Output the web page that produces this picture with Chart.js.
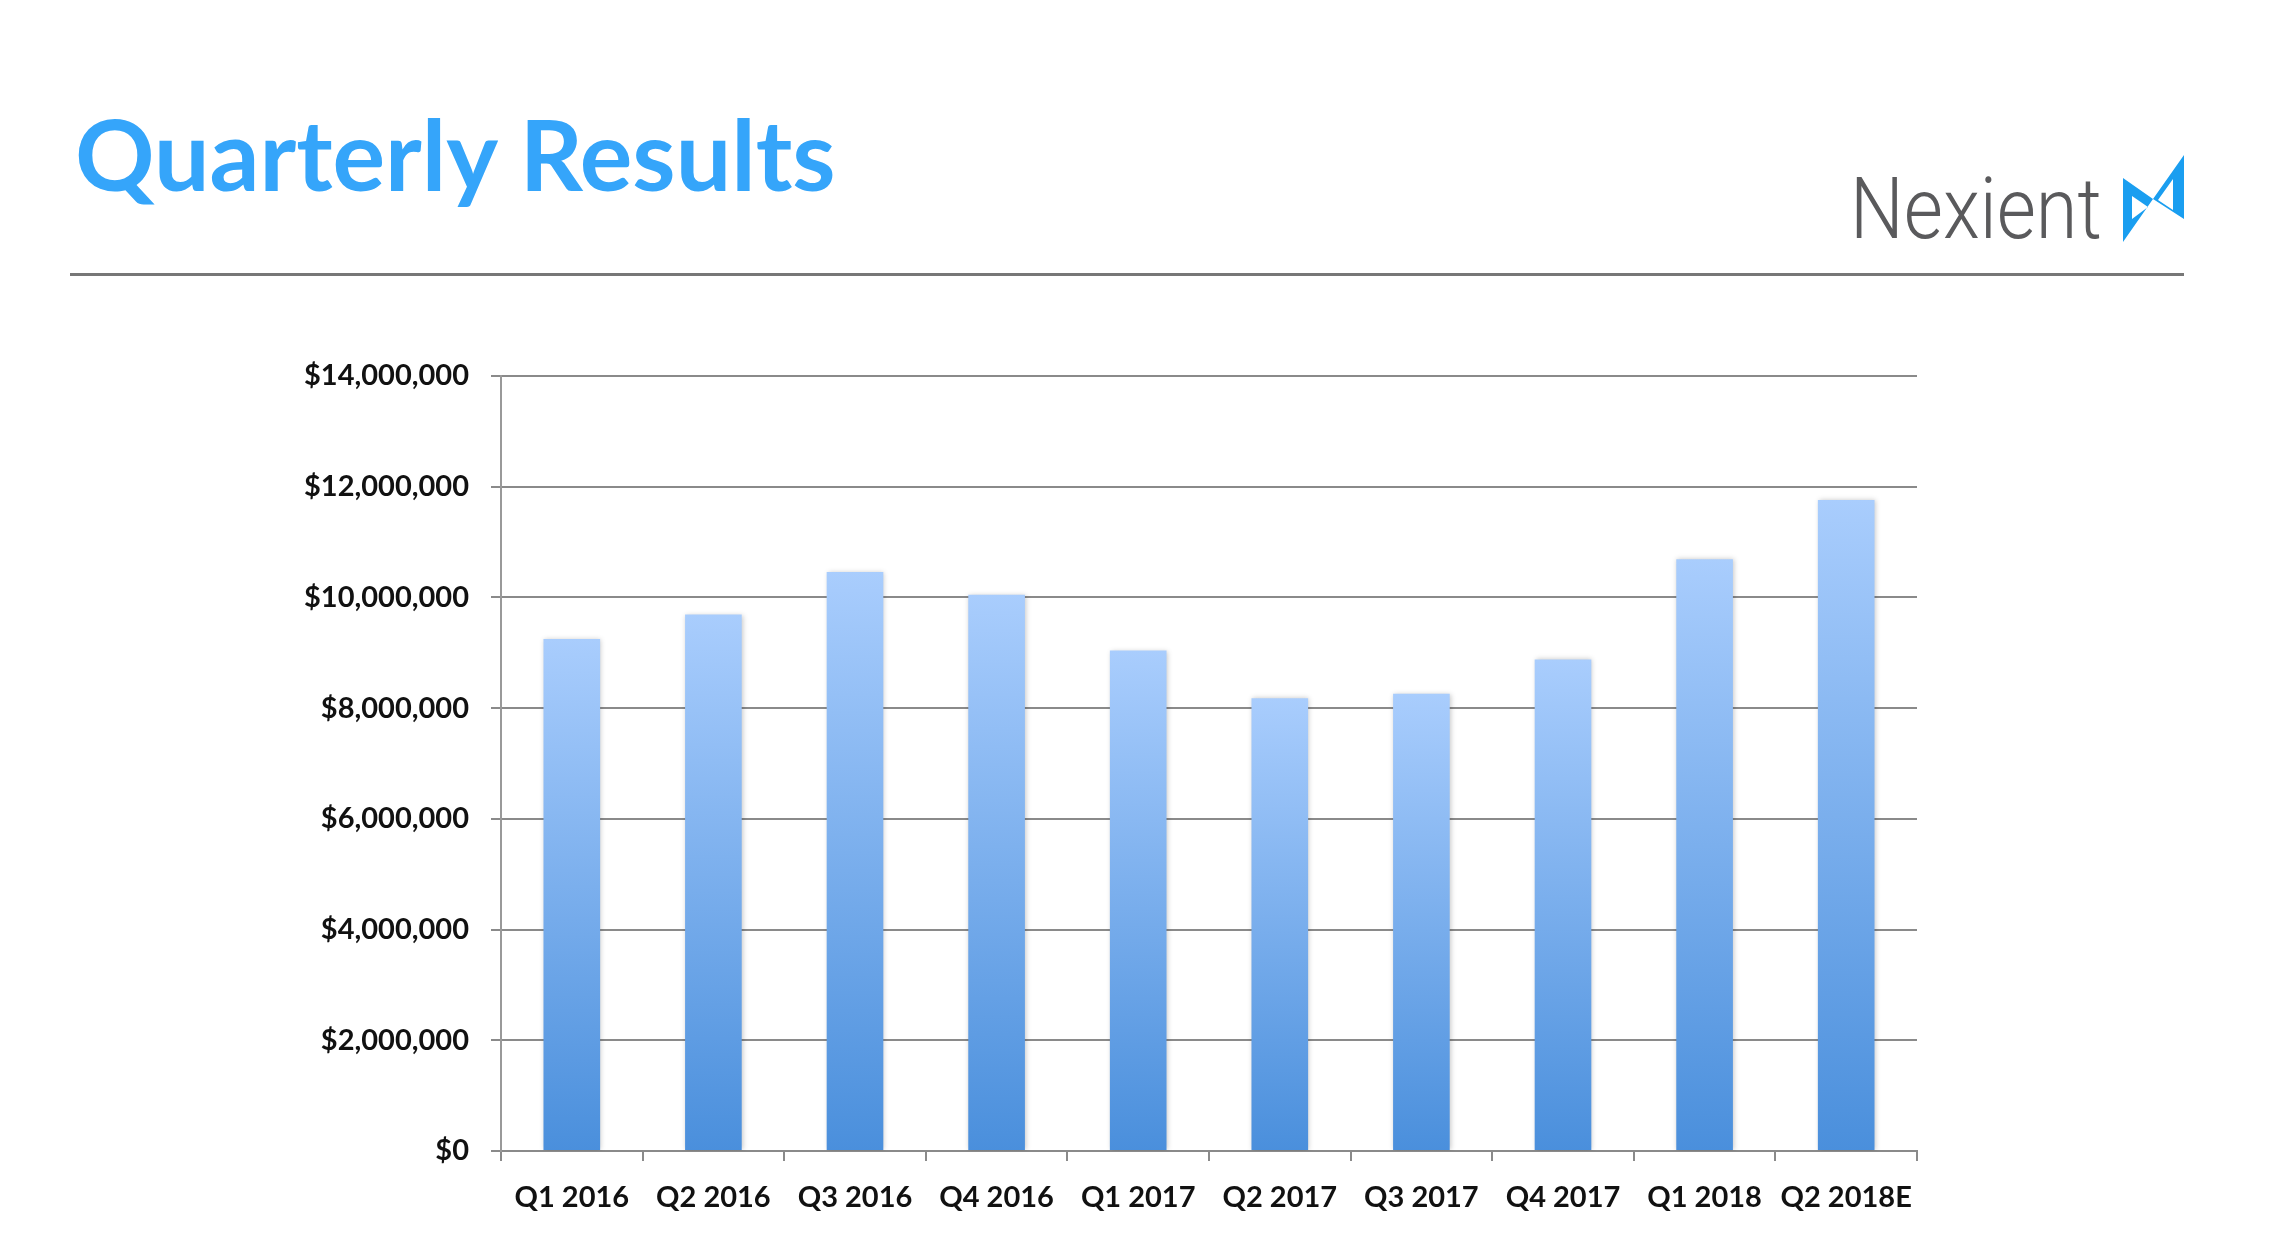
<!DOCTYPE html>
<html>
<head>
<meta charset="utf-8">
<title>Quarterly Results</title>
<script src="https://cdn.jsdelivr.net/npm/chart.js@4.4.1/dist/chart.umd.min.js"></script>
<style>
    html, body { margin: 0; padding: 0; background: #fff; }
    body { width: 2276px; height: 1254px; position: relative; overflow: hidden; }
    #wrap { position: absolute; left: 0; top: 0; width: 2276px; height: 1254px; z-index: 1; }
    .title {
        position: absolute; left: 75px; top: 104px; z-index: 5;
        font-family: Lato, sans-serif; font-weight: 700; font-size: 98.5px; line-height: 1;
        color: #35a5fa; white-space: nowrap;
    }
    .rule {
        position: absolute; left: 70px; top: 273px; width: 2114px; height: 0; z-index: 5;
        border-top: 3px solid #777;
    }
    .brand {
        position: absolute; left: 1850px; top: 166px; z-index: 5;
        font-family: Roboto, sans-serif; font-weight: 300; font-size: 86px; line-height: 1;
        color: #5a5a5c; white-space: nowrap; transform-origin: left top; transform: scaleX(0.88);
    }
    .mark { position: absolute; left: 2123px; top: 155px; z-index: 5; }
</style>
</head>
<body>
<div id="wrap"><canvas id="chart"></canvas></div>
<div class="title">Quarterly Results</div>
<div class="rule"></div>
<div class="brand">Nexient</div>
<svg class="mark" width="62" height="88" viewBox="0 0 62 88">
    <path fill="#1a9ef0" fill-rule="evenodd"
          d="M0 23 L30 44 L0 87 Z M9 41 L9 64 L25 52 Z
             M61 0 L61 64 L30 44 Z M50 24 L50 55 L35 45 Z"/>
</svg>

<script>
// --- данные графика ---
const quarters = ['Q1 2016', 'Q2 2016', 'Q3 2016', 'Q4 2016', 'Q1 2017',
                  'Q2 2017', 'Q3 2017', 'Q4 2017', 'Q1 2018', 'Q2 2018E'];
const revenue = [9250000, 9690000, 10460000, 10050000, 9040000,
                 8180000, 8260000, 8880000, 10690000, 11760000];
const yMax = 14000000;
const yStep = 2000000;

const gridColor = '#8a8a8a';
const labelFont = { family: 'Lato, sans-serif', size: 29, weight: '700' };

// градиент на каждый столбик, сверху светлый, снизу темнее
function barGradient(context) {
    const chart = context.chart;
    if (!chart.chartArea || context.type !== 'data') return '#7fb1f0';
    const y = chart.scales.y;
    const top = y.getPixelForValue(context.raw);
    const base = y.getPixelForValue(0);
    const g = chart.ctx.createLinearGradient(0, top, 0, base);
    g.addColorStop(0, '#a9cdfd');
    g.addColorStop(1, '#4a8fdc');
    return g;
}

// лёгкая тень вокруг столбиков
const barShadow = {
    id: 'barShadow',
    beforeDatasetsDraw(chart) {
        const c = chart.ctx;
        c.save();
        c.shadowColor = 'rgba(0,0,0,0.22)';
        c.shadowBlur = 5;
        c.shadowOffsetX = 1;
        c.shadowOffsetY = 0;
    },
    afterDatasetsDraw(chart) {
        chart.ctx.restore();
    }
};

new Chart(document.getElementById('chart'), {
    type: 'bar',
    data: {
        labels: quarters,
        datasets: [{
            data: revenue,
            backgroundColor: barGradient,
            borderWidth: 0,
            categoryPercentage: 1,
            barPercentage: 0.4
        }]
    },
    options: {
        responsive: true,
        maintainAspectRatio: false,
        devicePixelRatio: 1,
        animation: false,
        layout: { padding: { top: 376, right: 359, bottom: 0, left: 0 } },
        plugins: { legend: { display: false }, tooltip: { enabled: false } },
        scales: {
            x: {
                offset: true,
                grid: {
                    offset: true,
                    drawOnChartArea: false,
                    drawTicks: true,
                    tickLength: 10,
                    color: gridColor,
                    lineWidth: 2
                },
                border: { display: true, color: gridColor, width: 2 },
                ticks: { color: '#111', font: labelFont, padding: 19, maxRotation: 0, autoSkip: false },
                afterFit(scale) { scale.height = 103; }
            },
            y: {
                min: 0,
                max: yMax,
                grid: { color: gridColor, lineWidth: 2, tickLength: 10 },
                border: { display: true, color: '#999', width: 2 },
                ticks: {
                    stepSize: yStep,
                    color: '#111',
                    font: labelFont,
                    padding: 22,
                    callback: (v) => '$' + v.toLocaleString('en-US')
                },
                afterFit(scale) { scale.width = 501; }
            }
        }
    },
    plugins: [barShadow]
});
</script>
</body>
</html>
